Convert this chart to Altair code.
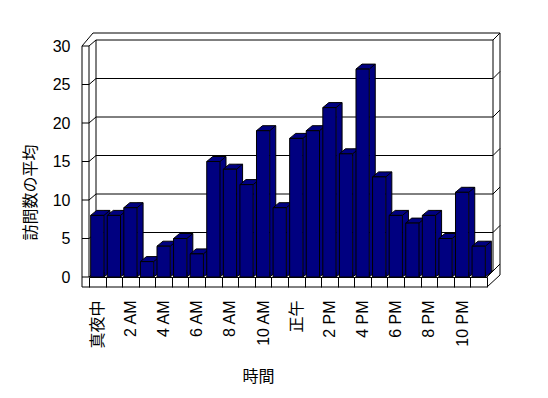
import json
import altair as alt
import pandas as pd

# ---- data ----
hours = ['真夜中', '1 AM', '2 AM', '3 AM', '4 AM', '5 AM', '6 AM', '7 AM', '8 AM', '9 AM',
         '10 AM', '11 AM', '正午', '1 PM', '2 PM', '3 PM', '4 PM', '5 PM', '6 PM', '7 PM',
         '8 PM', '9 PM', '10 PM', '11 PM']
visits = [8, 8, 9, 2, 4, 5, 3, 15, 14, 12, 19, 9, 18, 19, 22, 16, 27, 13, 8, 7, 8, 5, 11, 4]
shown_labels = ['真夜中', '2 AM', '4 AM', '6 AM', '8 AM', '10 AM', '正午', '2 PM', '4 PM',
                '6 PM', '8 PM', '10 PM']
y_ticks = [0, 5, 10, 15, 20, 25, 30]

df = pd.DataFrame({'hour': hours, 'visits': visits})
grid_df = pd.DataFrame({'visits': y_ticks})
dummy = pd.DataFrame({'a': [1]})

# ---- geometry / style ----
W, H = 398, 231
NAVY = '#000080'
FONT = "Liberation Sans, Noto Sans CJK JP, sans-serif"
CJK = "Noto Sans CJK JP, sans-serif"
step = W / len(hours)
hw = 0.4 * step          # half width of the bar front face
DX, DY = 6, 5            # bar depth
U = 20.0                 # custom symbol unit (size = (2U)^2)
SYM_SIZE = (2 * U) ** 2

def p(x, y):
    return f"{x / U:.4f},{y / U:.4f}"

top_path = f"M{p(-hw, 0)} L{p(hw, 0)} L{p(hw + DX, -DY)} L{p(-hw + DX, -DY)} Z"
tri_path = f"M{p(hw, -DY)} L{p(hw, 0)} L{p(hw + DX, -DY)}"

xscale = alt.Scale(domain=hours, paddingInner=0, paddingOuter=0)
yscale = alt.Scale(domain=[0, 30], nice=False, zero=True)

label_expr = ("indexof(" + json.dumps(shown_labels, ensure_ascii=False) +
              ", datum.value) >= 0 ? datum.value : ''")

x_axis = alt.Axis(title='時間', tickBand='extent', tickSize=10, tickColor='black',
                  domainColor='black', labelAngle=270, labelPadding=13,
                  labelExpr=label_expr, titleX=169, titleY=99,
                  titleBaseline='middle', titleAlign='center', titleAngle=0,
                  grid=False, labelOverlap=False)
y_axis = alt.Axis(title='訪問数の平均', values=y_ticks, offset=7, domain=False, ticks=False,
                  grid=False, labelPadding=12, titleX=-52, titleY=146,
                  titleBaseline='middle', titleAlign='center',
                  labelOverlap=False, labelFlush=False, tickCount=7)

X = alt.X('hour:N', scale=xscale, sort=hours)
Y = alt.Y('visits:Q', scale=yscale)

# invisible layer carrying the axes
axes_layer = alt.Chart(df).mark_bar(opacity=0).encode(
    x=alt.X('hour:N', scale=xscale, sort=hours, axis=x_axis),
    y=alt.Y('visits:Q', scale=yscale, axis=y_axis))


def seg(x1, v1, x2=None, v2=None, o1=0, o2=0):
    enc = dict(x=alt.value(x1), y=alt.datum(v1))
    mk = dict(color='black', strokeWidth=1, yOffset=o1)
    if x2 is not None:
        enc['x2'] = alt.value(x2)
    if v2 is not None:
        enc['y2'] = alt.datum(v2)
        mk['y2Offset'] = o2
    return alt.Chart(dummy).mark_rule(**mk).encode(**enc)


# gridlines wrapping the walls
g = alt.Chart(grid_df)
grid_back = g.mark_rule(color='black', yOffset=-6).encode(
    x=alt.value(7), x2=alt.value(404), y=Y)
grid_front = g.mark_rule(color='black').encode(
    x=alt.value(-7), x2=alt.value(0), y=Y)
grid_ldiag = g.mark_rule(color='black', y2Offset=-6).encode(
    x=alt.value(0), x2=alt.value(7), y=Y, y2='visits:Q')
grid_rdiag = g.mark_rule(color='black', yOffset=-6, y2Offset=-13).encode(
    x=alt.value(404), x2=alt.value(411), y=Y, y2='visits:Q')

frame = [
    seg(-7, 30, v2=0, o2=10),            # left outer edge
    seg(0, 30, v2=0),                    # left wall inner
    seg(7, 30, v2=0, o1=-6, o2=-6),      # back wall left
    seg(404, 30, v2=0, o1=-6, o2=-6),    # back wall right
    seg(411, 30, v2=0, o1=-13, o2=-2),   # outer right
    seg(4, 30, x2=411, o1=-13),          # top outer
    seg(-7, 30, x2=4, v2=30, o2=-13),    # top-left diagonal
    seg(-7, 0, x2=W, o1=10),             # floor bottom edge
    seg(W, 0, x2=404, v2=0, o2=-6),      # floor top right diagonal
    seg(W, 0, x2=411, v2=0, o1=10, o2=-2),  # floor bottom right diagonal
]

base = alt.Chart(df)
side = base.mark_bar(width=DX, xOffset=hw + DX / 2, yOffset=-DY, y2Offset=-DY,
                     fill=NAVY, strokeWidth=0).encode(x=X, y=Y, y2=alt.datum(0))
side_edge = base.mark_rule(color='black', xOffset=hw + DX, yOffset=-DY, y2Offset=-DY).encode(
    x=X, y=Y, y2=alt.datum(0))
bottom_tri = base.mark_point(shape=tri_path, size=SYM_SIZE, filled=True, fill=NAVY,
                             stroke='black', strokeWidth=1, opacity=1).encode(
    x=X, y=alt.datum(0))
top = base.mark_point(shape=top_path, size=SYM_SIZE, filled=True, fill=NAVY,
                      stroke='black', strokeWidth=1, opacity=1).encode(x=X, y=Y)
front = base.mark_bar(width=alt.RelativeBandSize(0.8), fill=NAVY, stroke='black',
                      strokeWidth=1).encode(x=X, y=Y, y2=alt.datum(0))

chart = alt.layer(
    axes_layer, grid_back, grid_front, grid_ldiag, grid_rdiag, *frame,
    side, side_edge, bottom_tri, top, front
).properties(
    width=W, height=H, autosize='none',
    padding={'left': 81, 'top': 38, 'right': 53, 'bottom': 113},
    background='white'
).configure_view(stroke=None).configure_axis(
    labelFont=FONT, labelFontSize=16, labelColor='black',
    titleFont=CJK, titleFontSize=16, titleFontWeight='normal', titleColor='black',
    grid=False, labelOverlap=False
)

chart.save("out.html", embed_options={"renderer": "svg", "actions": False})
